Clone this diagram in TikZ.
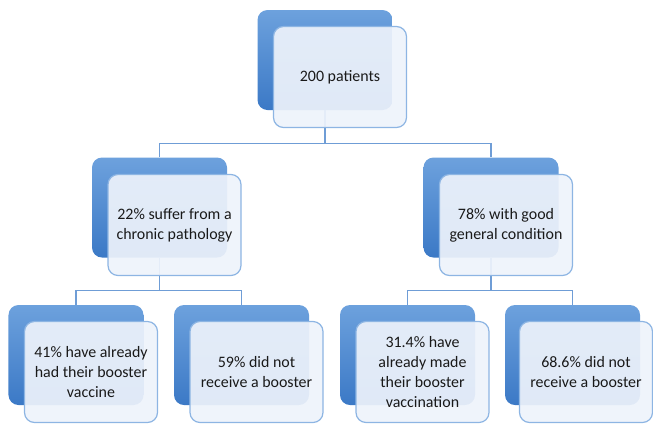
\documentclass[tikz,border=0pt]{standalone}
\usepackage{fontspec}
\setmainfont{Carlito}
\definecolor{boxtop}{HTML}{6DA1DD}
\definecolor{boxbot}{HTML}{3B79C6}
\definecolor{cardfill}{HTML}{EEF3FB}
\definecolor{cardline}{HTML}{8DB5E3}
\definecolor{linkcol}{HTML}{6F9DD6}
\begin{document}
\begin{tikzpicture}[x=1bp,y=-1bp,
		back/.style={rounded corners=10bp, top color=boxtop, bottom color=boxbot, draw=none,
			minimum width=135bp, minimum height=100bp, inner sep=0pt},
		card/.style={rounded corners=10bp, fill=cardfill, fill opacity=0.92, text opacity=1,
			draw=cardline, line width=1.2bp, minimum width=133bp, minimum height=101bp,
			align=center, text=black!90, font=\fontsize{16}{20}\selectfont, inner sep=2bp},
		link/.style={draw=linkcol, line width=1.3bp}]
		\useasboundingbox (0,0) rectangle (653,425);
		%
		\node[back] (Pb) at (325,60) {};
		\node[back] (Cb) at (159.5,207.5) {};
		\node[back] (Gb) at (491,207.5) {};
		\node[back] (C1b) at (76,355) {};
		\node[back] (C2b) at (241.5,355) {};
		\node[back] (G1b) at (407.5,355) {};
		\node[back] (G2b) at (572.5,355) {};
		%
		\draw[link] (Pb.south) -- ++(0,33) coordinate (Pj) -| (Cb.north);
		\draw[link] (Pj) -| (Gb.north);
		\draw[link] (Cb.south) -- ++(0,33) coordinate (Cj) -| (C1b.north);
		\draw[link] (Cj) -| (C2b.north);
		\draw[link] (Gb.south) -- ++(0,33) coordinate (Gj) -| (G1b.north);
		\draw[link] (Gj) -| (G2b.north);
		%
		\node[card] (P) at (340,77) {200 patients};
		\node[card] (C) at (174.5,225) {22\% suffer from a\\chronic pathology};
		\node[card] (G) at (506,225) {78\% with good\\general condition};
		\node[card] (C1) at (91,372) {41\% have already\\had their booster\\vaccine};
		\node[card] (C2) at (256.5,372) {59\% did not\\receive a booster};
		\node[card] (G1) at (422.5,372) {31.4\% have\\already made\\their booster\\vaccination};
		\node[card] (G2) at (586,372) {68.6\% did not\\receive a booster};
		%
	\end{tikzpicture}
\end{document}
